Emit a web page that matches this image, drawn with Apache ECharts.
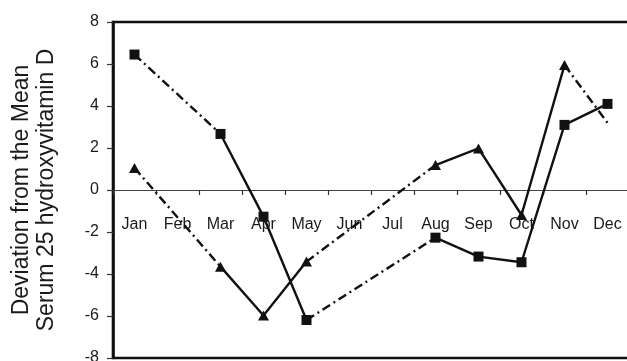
<!DOCTYPE html>
<html>
<head>
<meta charset="utf-8">
<script src="https://cdn.jsdelivr.net/npm/echarts@6/dist/echarts.min.js"></script>
<style>
  html, body { margin: 0; padding: 0; background: #fff; }
  #chart { width: 627px; height: 361px; }
</style>
</head>
<body>
<div id="chart"></div>
<script>
// Monthly deviation from the mean serum 25-hydroxyvitamin D
const months = ['Jan', 'Feb', 'Mar', 'Apr', 'May', 'Jun', 'Jul', 'Aug', 'Sep', 'Oct', 'Nov', 'Dec'];
// null = month without a measurement
const squareValues   = [6.45, null, 2.67, -1.27, -6.19, null, null, -2.27, -3.17, -3.44, 3.10, 4.10];
const triangleValues = [1.05, null, -3.65, -5.98, -3.41, null, null, 1.19, 1.98, -1.19, 5.95, null];
// where the dashed trend of the triangle group ends in December
const triangleDecTrend = 3.2;
const yTicks = [-8, -6, -4, -2, 0, 2, 4, 6, 8];

const ink = '#111';
const lineW = 2.4;
const dashDot = [9, 4, 2, 4];
const gridBox = { left: 113, top: 22, width: 516, height: 336 };

// Dashed bridges across months with no measurement
function bridges(values, endTrend) {
  const idx = [];
  values.forEach((v, i) => { if (v !== null) idx.push(i); });
  const out = [];
  for (let k = 0; k < idx.length - 1; k++) {
    if (idx[k + 1] - idx[k] > 1) {
      const d = values.map(() => null);
      d[idx[k]] = values[idx[k]];
      d[idx[k + 1]] = values[idx[k + 1]];
      out.push(d);
    }
  }
  const last = idx[idx.length - 1];
  if (endTrend !== undefined && last < values.length - 1) {
    const d = values.map(() => null);
    d[last] = values[last];
    d[values.length - 1] = endTrend;
    out.push(d);
  }
  return out;
}

function bridgeSeries(data) {
  return {
    type: 'line', data: data, connectNulls: true, showSymbol: false,
    symbol: 'none', silent: true, z: 2,
    lineStyle: { color: ink, width: lineW, type: dashDot }
  };
}

const series = [];
bridges(squareValues).forEach(d => series.push(bridgeSeries(d)));
bridges(triangleValues, triangleDecTrend).forEach(d => series.push(bridgeSeries(d)));
series.push({
  type: 'line', name: 'square', data: squareValues, connectNulls: false,
  symbol: 'rect', symbolSize: 10, z: 3,
  itemStyle: { color: ink }, lineStyle: { color: ink, width: lineW }
});
series.push({
  type: 'line', name: 'triangle', data: triangleValues, connectNulls: false,
  symbol: 'triangle', symbolSize: [11, 10], z: 3,
  itemStyle: { color: ink }, lineStyle: { color: ink, width: lineW }
});

const chart = echarts.init(document.getElementById('chart'), null, { renderer: 'canvas' });
chart.setOption({
  animation: false,
  backgroundColor: '#fff',
  textStyle: { fontFamily: 'Liberation Sans, Arial, sans-serif' },
  grid: Object.assign({
    show: true, borderColor: ink, borderWidth: 2.6, backgroundColor: 'transparent',
    outerBoundsMode: 'none', containLabel: false
  }, gridBox),
  xAxis: {
    type: 'category', data: months, boundaryGap: true,
    axisLine: { onZero: false, lineStyle: { color: '#444', width: 1 } },
    axisTick: { show: true, length: 5, interval: 0, lineStyle: { color: '#333', width: 1.2 } },
    axisLabel: { interval: 0, fontSize: 16, color: '#1a1a1a', margin: 27 },
    splitLine: { show: false }
  },
  yAxis: {
    type: 'value', min: yTicks[0], max: yTicks[yTicks.length - 1], interval: 2,
    axisLine: { show: true, lineStyle: { color: ink, width: 2.6 } },
    axisTick: { show: true, length: 6, lineStyle: { color: '#333', width: 1.2 } },
    axisLabel: { fontSize: 16, color: '#1a1a1a', margin: 14 },
    splitLine: { show: false },
    name: 'Deviation from the Mean\nSerum 25 hydroxyvitamin D',
    nameLocation: 'middle', nameRotate: 90, nameGap: 54,
    nameTextStyle: { fontSize: 23, color: '#1a1a1a', lineHeight: 25 }
  },
  series: series
});

// Place the category axis (line, ticks and labels) on the zero level
const zeroY = chart.convertToPixel({ yAxisIndex: 0 }, 0);
chart.setOption({ xAxis: { offset: zeroY - (gridBox.top + gridBox.height) } });
</script>
</body>
</html>
